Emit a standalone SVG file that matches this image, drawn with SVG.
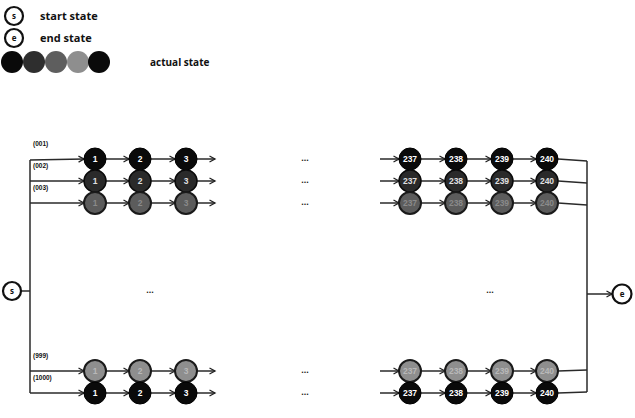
<svg xmlns="http://www.w3.org/2000/svg" width="635" height="418" viewBox="0 0 635 418">
<defs>
<marker id="ah" markerWidth="8" markerHeight="8" refX="6.5" refY="4" orient="auto" markerUnits="userSpaceOnUse">
<path d="M1,1 L6.5,4 L1,7" fill="none" stroke="#222" stroke-width="1.3"/>
</marker>
<style>
.conn{stroke:#2a2a2a;stroke-width:1.5;fill:none}
.arr{marker-end:url(#ah)}
.se{fill:#fff;stroke:#111;stroke-width:2.2}
.se-t{font-family:"Open Sans","Liberation Sans",sans-serif;font-weight:700;font-size:8px;fill:#111;text-anchor:middle}
.leg{font-family:"Open Sans","Liberation Sans",sans-serif;font-weight:700;font-size:11px;fill:#111}
.lbl{font-family:"Liberation Sans",sans-serif;font-weight:700;font-size:6.5px;fill:#111}
.dots{font-family:"Liberation Sans",sans-serif;font-weight:700;font-size:9px;fill:#222;text-anchor:middle}
.num{font-family:"Liberation Sans",sans-serif;font-weight:700;font-size:8.5px;text-anchor:middle}
.c1{fill:#0a0a0a;stroke:#000;stroke-width:1}
.c2{fill:#2a2a2a;stroke:#0a0a0a;stroke-width:1.5}
.c3{fill:#5c5c5c;stroke:#1a1a1a;stroke-width:2}
.c4{fill:#8e8e8e;stroke:#1a1a1a;stroke-width:2}
.t1{fill:#fff}
.t2{fill:#e0e0e0}
.t3{fill:#8a8a8a}
.t4{fill:#b8b8b8}
</style>
</defs>

<g id="legend">
  <g id="legend-start"><circle class="se" cx="14" cy="16" r="9"/><text class="se-t" x="14" y="19">s</text><text class="leg" x="40" y="20">start state</text></g>
  <g id="legend-end"><circle class="se" cx="14" cy="38" r="9"/><text class="se-t" x="14" y="41">e</text><text class="leg" x="40" y="42">end state</text></g>
  <g id="legend-actual">
    <circle cx="12" cy="62" r="11" fill="#0a0a0a"/>
    <circle cx="34" cy="62" r="11" fill="#2e2e2e"/>
    <circle cx="56" cy="62" r="11" fill="#5e5e5e"/>
    <circle cx="78" cy="62" r="11" fill="#8e8e8e"/>
    <circle cx="99" cy="62" r="11" fill="#0a0a0a"/>
    <text class="leg" x="150" y="66" style="font-size:10px">actual state</text>
  </g>
</g>

<g id="connectors">
  <line class="conn" x1="21" y1="291" x2="30" y2="291"/>
  <line class="conn" x1="30" y1="160" x2="30" y2="393"/>
  <line class="conn arr" x1="30" y1="160" x2="84" y2="159"/>
  <line class="conn arr" x1="30" y1="181" x2="84" y2="181"/>
  <line class="conn arr" x1="30" y1="203" x2="84" y2="203"/>
  <line class="conn arr" x1="30" y1="371" x2="84" y2="371"/>
  <line class="conn arr" x1="30" y1="393" x2="84" y2="393"/>
  <g id="left-chain-lines">
    <path class="conn arr" d="M106,159 H129"/><path class="conn arr" d="M151,159 H175"/><path class="conn arr" d="M197,159 H215"/>
    <path class="conn arr" d="M106,181 H129"/><path class="conn arr" d="M151,181 H175"/><path class="conn arr" d="M197,181 H215"/>
    <path class="conn arr" d="M106,203 H129"/><path class="conn arr" d="M151,203 H175"/><path class="conn arr" d="M197,203 H215"/>
    <path class="conn arr" d="M106,371 H129"/><path class="conn arr" d="M151,371 H175"/><path class="conn arr" d="M197,371 H215"/>
    <path class="conn arr" d="M106,393 H129"/><path class="conn arr" d="M151,393 H175"/><path class="conn arr" d="M197,393 H215"/>
  </g>
  <g id="right-chain-lines">
    <path class="conn arr" d="M380,159 H399"/><path class="conn arr" d="M421,159 H445"/><path class="conn arr" d="M467,159 H491"/><path class="conn arr" d="M513,159 H536"/>
    <path class="conn arr" d="M380,181 H399"/><path class="conn arr" d="M421,181 H445"/><path class="conn arr" d="M467,181 H491"/><path class="conn arr" d="M513,181 H536"/>
    <path class="conn arr" d="M380,203 H399"/><path class="conn arr" d="M421,203 H445"/><path class="conn arr" d="M467,203 H491"/><path class="conn arr" d="M513,203 H536"/>
    <path class="conn arr" d="M380,371 H399"/><path class="conn arr" d="M421,371 H445"/><path class="conn arr" d="M467,371 H491"/><path class="conn arr" d="M513,371 H536"/>
    <path class="conn arr" d="M380,393 H399"/><path class="conn arr" d="M421,393 H445"/><path class="conn arr" d="M467,393 H491"/><path class="conn arr" d="M513,393 H536"/>
  </g>
  <line class="conn" x1="558" y1="159" x2="587" y2="161"/>
  <line class="conn" x1="558" y1="181" x2="587" y2="183"/>
  <line class="conn" x1="558" y1="203" x2="587" y2="205"/>
  <line class="conn" x1="558" y1="371" x2="587" y2="370"/>
  <line class="conn" x1="558" y1="393" x2="587" y2="392"/>
  <line class="conn" x1="587" y1="161" x2="587" y2="392"/>
  <line class="conn arr" x1="587" y1="294" x2="612" y2="294"/>
</g>

<g id="start"><circle class="se" cx="12" cy="291" r="9"/><text class="se-t" x="12" y="294">s</text></g>
<g id="end"><circle class="se" cx="622" cy="294" r="9.5"/><text class="se-t" x="622" y="297">e</text></g>

<g id="row-labels">
  <text class="lbl" x="33" y="146">(001)</text>
  <text class="lbl" x="33" y="168">(002)</text>
  <text class="lbl" x="33" y="190">(003)</text>
  <text class="lbl" x="33" y="358">(999)</text>
  <text class="lbl" x="33" y="380">(1000)</text>
</g>

<g id="ellipses">
  <text class="dots" x="305" y="161">...</text>
  <text class="dots" x="305" y="183">...</text>
  <text class="dots" x="305" y="205">...</text>
  <text class="dots" x="305" y="373">...</text>
  <text class="dots" x="305" y="395">...</text>
  <text class="dots" x="150" y="293">...</text>
  <text class="dots" x="490" y="293">...</text>
</g>

<g id="row1">
  <g id="n1-1"><circle class="c1" cx="95" cy="159" r="11"/><text class="num t1" x="95" y="162">1</text></g>
  <g id="n1-2"><circle class="c1" cx="140" cy="159" r="11"/><text class="num t1" x="140" y="162">2</text></g>
  <g id="n1-3"><circle class="c1" cx="186" cy="159" r="11"/><text class="num t1" x="186" y="162">3</text></g>
  <g id="n1-237"><circle class="c1" cx="410" cy="159" r="11"/><text class="num t1" x="410" y="162">237</text></g>
  <g id="n1-238"><circle class="c1" cx="456" cy="159" r="11"/><text class="num t1" x="456" y="162">238</text></g>
  <g id="n1-239"><circle class="c1" cx="502" cy="159" r="11"/><text class="num t1" x="502" y="162">239</text></g>
  <g id="n1-240"><circle class="c1" cx="547" cy="159" r="11"/><text class="num t1" x="547" y="162">240</text></g>
</g>
<g id="row2">
  <g id="n2-1"><circle class="c2" cx="95" cy="181" r="11"/><text class="num t2" x="95" y="184">1</text></g>
  <g id="n2-2"><circle class="c2" cx="140" cy="181" r="11"/><text class="num t2" x="140" y="184">2</text></g>
  <g id="n2-3"><circle class="c2" cx="186" cy="181" r="11"/><text class="num t2" x="186" y="184">3</text></g>
  <g id="n2-237"><circle class="c2" cx="410" cy="181" r="11"/><text class="num t2" x="410" y="184">237</text></g>
  <g id="n2-238"><circle class="c2" cx="456" cy="181" r="11"/><text class="num t2" x="456" y="184">238</text></g>
  <g id="n2-239"><circle class="c2" cx="502" cy="181" r="11"/><text class="num t2" x="502" y="184">239</text></g>
  <g id="n2-240"><circle class="c2" cx="547" cy="181" r="11"/><text class="num t2" x="547" y="184">240</text></g>
</g>
<g id="row3">
  <g id="n3-1"><circle class="c3" cx="95" cy="203" r="11"/><text class="num t3" x="95" y="206">1</text></g>
  <g id="n3-2"><circle class="c3" cx="140" cy="203" r="11"/><text class="num t3" x="140" y="206">2</text></g>
  <g id="n3-3"><circle class="c3" cx="186" cy="203" r="11"/><text class="num t3" x="186" y="206">3</text></g>
  <g id="n3-237"><circle class="c3" cx="410" cy="203" r="11"/><text class="num t3" x="410" y="206">237</text></g>
  <g id="n3-238"><circle class="c3" cx="456" cy="203" r="11"/><text class="num t3" x="456" y="206">238</text></g>
  <g id="n3-239"><circle class="c3" cx="502" cy="203" r="11"/><text class="num t3" x="502" y="206">239</text></g>
  <g id="n3-240"><circle class="c3" cx="547" cy="203" r="11"/><text class="num t3" x="547" y="206">240</text></g>
</g>
<g id="row4">
  <g id="n4-1"><circle class="c4" cx="95" cy="371" r="11"/><text class="num t4" x="95" y="374">1</text></g>
  <g id="n4-2"><circle class="c4" cx="140" cy="371" r="11"/><text class="num t4" x="140" y="374">2</text></g>
  <g id="n4-3"><circle class="c4" cx="186" cy="371" r="11"/><text class="num t4" x="186" y="374">3</text></g>
  <g id="n4-237"><circle class="c4" cx="410" cy="371" r="11"/><text class="num t4" x="410" y="374">237</text></g>
  <g id="n4-238"><circle class="c4" cx="456" cy="371" r="11"/><text class="num t4" x="456" y="374">238</text></g>
  <g id="n4-239"><circle class="c4" cx="502" cy="371" r="11"/><text class="num t4" x="502" y="374">239</text></g>
  <g id="n4-240"><circle class="c4" cx="547" cy="371" r="11"/><text class="num t4" x="547" y="374">240</text></g>
</g>
<g id="row5">
  <g id="n5-1"><circle class="c1" cx="95" cy="393" r="11"/><text class="num t1" x="95" y="396">1</text></g>
  <g id="n5-2"><circle class="c1" cx="140" cy="393" r="11"/><text class="num t1" x="140" y="396">2</text></g>
  <g id="n5-3"><circle class="c1" cx="186" cy="393" r="11"/><text class="num t1" x="186" y="396">3</text></g>
  <g id="n5-237"><circle class="c1" cx="410" cy="393" r="11"/><text class="num t1" x="410" y="396">237</text></g>
  <g id="n5-238"><circle class="c1" cx="456" cy="393" r="11"/><text class="num t1" x="456" y="396">238</text></g>
  <g id="n5-239"><circle class="c1" cx="502" cy="393" r="11"/><text class="num t1" x="502" y="396">239</text></g>
  <g id="n5-240"><circle class="c1" cx="547" cy="393" r="11"/><text class="num t1" x="547" y="396">240</text></g>
</g>
</svg>
